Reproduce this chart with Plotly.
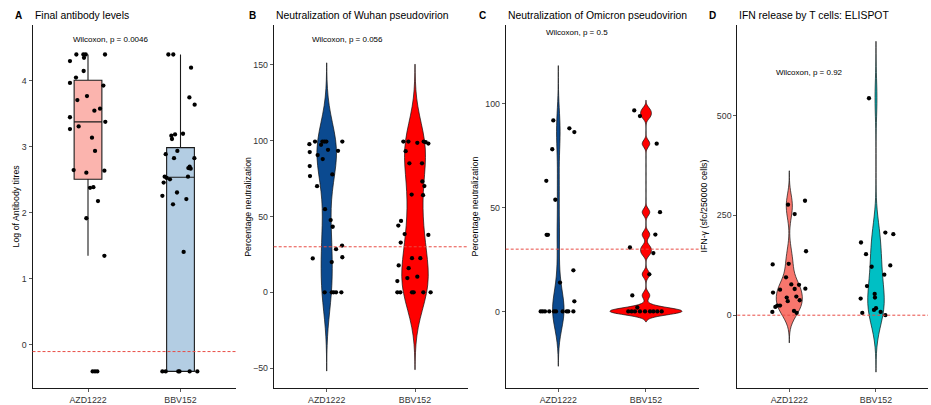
import numpy as np
import plotly.graph_objects as go

W, H = 931, 405
groups = ["AZD1222", "BBV152"]
FONT = "Liberation Sans, Arial, sans-serif"

# ---------------- Panel A: Final antibody levels (log titres) ----------------
a_azd = [4.30, 4.40, 4.40, 4.40, 4.35, 4.40, 4.15, 4.05, 3.97, 3.93, 3.77, 3.71, 3.58, 3.55,
         3.45, 3.38, 3.31, 3.27, 3.14, 2.94, 2.65, 2.64, 2.61, 2.38, 2.39, 2.18, 1.92, 1.35,
         -0.40, -0.40, -0.40]
a_azd_jit = [-0.195, -0.126, -0.05, -0.025, -0.043, 0.184, -0.047, -0.13, -0.195, 0.166, -0.011,
             -0.115, 0.130, 0.069, -0.195, 0.187, -0.101, -0.195, 0.043, 0.076, -0.155, 0.177,
             -0.018, 0.022, 0.058, 0.108, -0.018, 0.177, 0.050, 0.076, 0.101]
a_bbv = [4.40, 4.40, 4.20, 3.75, 3.64, 3.20, 3.19, 3.17, 3.12, 2.94, 2.89, 2.83, 2.83, 2.68,
         2.70, 2.67, 2.55, 2.51, 2.53, 2.55, 2.46, 2.31, 2.26, 2.21, 2.13, 1.41,
         -0.40, -0.40, -0.40, -0.40, -0.40, -0.40]
a_bbv_jit = [-0.131, -0.078, 0.114, 0.096, 0.153, 0.027, -0.059, -0.099, -0.092, -0.034, -0.160,
             -0.070, 0.150, 0.085, 0.099, 0.110, -0.171, -0.114, -0.150, 0.081, -0.182, -0.038,
             -0.196, 0.063, -0.081, 0.034, -0.196, -0.160, -0.024, -0.011, 0.099, 0.182]
a_q1 = [2.51, -0.40]
a_median = [3.38, 2.54]
a_q3 = [4.01, 2.99]
a_lowerfence = [1.35, -0.40]
a_upperfence = [4.40, 4.40]

# ---------------- Panel B: Wuhan pseudovirion neutralization (%) ----------------
b_azd = [99.3, 99.3, 99.3, 99.3, 99.3, 97.6, 97.2, 90.4, 93.9, 93.2, 92.4, 87.8, 83.2, 76.6,
         77.7, 69.9, 54.8, 47.6, 43.2, 30.8, 28.4, 22.3, 23.1, 19.9, 0, 0, 0, 0, 0]
b_azd_jit = [-0.132, -0.049, -0.026, -0.004, 0.177, -0.196, -0.064, -0.102, 0.015, 0.128, -0.192,
             -0.045, -0.192, -0.189, 0.064, -0.109, -0.019, 0.045, 0.068, 0.174, 0.106, -0.158,
             0.177, 0.057, -0.023, 0.057, 0.079, 0.106, 0.166]
b_bbv = [99.3, 99.3, 99.3, 98.5, 98.9, 98.0, 93, 85, 85, 73, 70, 64, 64.4, 47, 44, 38.4, 37.8,
         32.8, 22.5, 22.5, 17.7, 15.9, 10.3, 9.4, 7.4, 0, 0, 0, 0, 0, 0]
b_bbv_jit = [-0.132, -0.075, 0.098, 0.026, 0.121, 0.151, -0.106, -0.064, 0.079, 0.083, 0.106,
             0.091, -0.038, -0.158, -0.189, -0.117, 0.151, -0.162, -0.034, 0.060, -0.185, -0.072,
             0.026, -0.087, -0.200, -0.200, -0.166, -0.034, -0.015, 0.094, 0.177]

# ---------------- Panel C: Omicron pseudovirion neutralization (%) ----------------
c_azd = [92, 88.2, 86.4, 78.1, 62.9, 53.8, 36.9, 36.9, 19.8, 13.9, 4.9,
         0, 0, 0, 0, 0, 0, 0, 0, 0, 0]
c_azd_jit = [-0.057, 0.126, 0.183, -0.069, -0.137, -0.034, -0.133, -0.118, 0.172, 0.019, 0.183,
             -0.201, -0.178, -0.152, -0.103, -0.049, -0.026, 0.050, 0.096, 0.114, 0.172]
c_bbv = [96.8, 94.1, 80.8, 47.8, 37, 30.8, 28.1, 17.9, 7.7, 1.9,
         0, 0, 0, 0, 0, 0, 0, 0, 0]
c_bbv_jit = [-0.134, -0.069, 0.122, 0.160, 0.107, -0.183, 0.084, 0.038, -0.156, -0.099,
             -0.202, -0.164, -0.126, -0.069, -0.011, 0.046, 0.084, 0.129, 0.179]

# ---------------- Panel D: IFN-gamma ELISPOT ----------------
d_azd = [286.5, 276.6, 253, 160, 127, 128.7, 94.7, 77, 76, 66.4, 64, 65.6, 56.5, 46.5, 44,
         37.4, 35, 24, 24, 20.8, 10.8, 8.3, 5.8]
d_azd_jit = [0.181, -0.015, 0.062, 0.193, -0.192, -0.007, -0.038, 0.023, 0.112, 0.185, -0.107,
             0.062, -0.188, 0.081, -0.030, 0.120, -0.018, -0.138, -0.107, -0.161, 0.054, -0.196,
             0.085]
d_bbv = [543, 206.8, 202.7, 181.9, 152.8, 124.6, 121.3, 101.3, 73, 41.5, 53, 44, 17.4, 13.3,
         8.3, 5.8, 0]
d_bbv_jit = [-0.081, 0.108, 0.200, -0.173, -0.115, 0.165, -0.050, 0.096, -0.104, -0.177, -0.015,
             -0.012, 0.0, -0.023, 0.054, -0.158, 0.108]

thresholds = [-0.1, 30, 30, 0]
titles = ["Final antibody levels", "Neutralization of Wuhan pseudovirion",
          "Neutralization of Omicron pseudovirion", "IFN release by T cells: ELISPOT"]
letters = ["A", "B", "C", "D"]
ylabels = ["Log of Antibody titres", "Percentage neutralization",
           "Percentage neutralization", "IFN-\u03b3 (sfc/250000 cells)"]
pvals = ["Wilcoxon, p = 0.0046", "Wilcoxon, p = 0.056", "Wilcoxon, p = 0.5", "Wilcoxon, p = 0.92"]
yticks = [[0, 1, 2, 3, 4], [-50, 0, 50, 100, 150], [0, 50, 100], [0, 250, 500]]

# ---------------- layout geometry (pixels) ----------------
x_dom_px = [(32.5, 236), (273.7, 468), (505.7, 698.6), (737.3, 928)]
y_dom_px = (25, 390)
y_ranges = [(-0.653, 4.849), (-63.1, 176.2), (-36.9, 138.0), (-182.4, 726.6)]
letter_x = [13.3, 247.3, 477.3, 707.3]
title_x = [33.3, 274.3, 506, 736.5]
ylab_x = [16, 248.3, 475, 704]
pval_xy = [(110.5, 39.3), (347.7, 39.3), (576.7, 32.7), (809.3, 72.7)]

def px(x):
    return x / W

def py(y):
    return 1 - y / H

fig = go.Figure()
suffix = ["", "2", "3", "4"]

def ax(i):
    return "x" + suffix[i], "y" + suffix[i]

# Panel A boxes
box_colors = ["#FBB4AE", "#B3CDE3"]
xa, ya = ax(0)
for g in range(2):
    fig.add_trace(go.Box(
        x=[g], q1=[a_q1[g]], median=[a_median[g]], q3=[a_q3[g]],
        lowerfence=[a_lowerfence[g]], upperfence=[a_upperfence[g]],
        width=0.30, whiskerwidth=0, fillcolor=box_colors[g],
        line=dict(color="#1a1a1a", width=1.1), boxpoints=False,
        xaxis=xa, yaxis=ya, showlegend=False, hoverinfo="skip"))

# Violins
violin_sets = [
    (1, b_azd, 0, "#0B4A90", 17.3, 0.22),
    (1, b_bbv, 1, "#FF0000", 17.0, 0.30),
    (2, c_azd, 0, "#0B4A90", 8.8, 0.13),
    (2, c_bbv, 1, "#FF0000", 1.65, 0.82),
    (3, d_azd, 0, "#F8766D", 25.0, 0.30),
    (3, d_bbv, 1, "#00BFC4", 47.5, 0.19),
]
for p, vals, g, col, bw, wd in violin_sets:
    xa, ya = ax(p)
    v = np.array(vals, dtype=float)
    fig.add_trace(go.Violin(
        x=[g] * len(v), y=v, width=wd, bandwidth=bw, spanmode="manual",
        span=[v.min() - 3 * bw, v.max() + 3 * bw], points=False,
        box_visible=False, meanline_visible=False, fillcolor=col, opacity=1,
        line=dict(color="#111111", width=0.7), xaxis=xa, yaxis=ya,
        showlegend=False, hoverinfo="skip"))

# Dashed threshold lines
for p in range(4):
    xa, ya = ax(p)
    fig.add_shape(type="line", xref=xa + " domain", yref=ya, x0=0, x1=1,
                  y0=thresholds[p], y1=thresholds[p],
                  line=dict(color="#E84C45", width=1, dash="3px,2px"))

# Jittered points
point_sets = [
    (0, a_azd, a_azd_jit, 0), (0, a_bbv, a_bbv_jit, 1),
    (1, b_azd, b_azd_jit, 0), (1, b_bbv, b_bbv_jit, 1),
    (2, c_azd, c_azd_jit, 0), (2, c_bbv, c_bbv_jit, 1),
    (3, d_azd, d_azd_jit, 0), (3, d_bbv, d_bbv_jit, 1),
]
for p, vals, jit, g in point_sets:
    xa, ya = ax(p)
    fig.add_trace(go.Scatter(
        x=[g + j for j in jit], y=vals, mode="markers",
        marker=dict(size=4.3, color="black"), xaxis=xa, yaxis=ya,
        showlegend=False, hoverinfo="skip", cliponaxis=False))

layout = dict(
    width=W, height=H, margin=dict(l=0, r=0, t=0, b=0),
    paper_bgcolor="white", plot_bgcolor="white",
    font=dict(family=FONT, color="black"), showlegend=False, violinmode="overlay",
    boxmode="overlay",
)
axis_common = dict(showgrid=False, zeroline=False, showline=True, linecolor="#1a1a1a",
                   linewidth=1, ticks="outside", ticklen=3, tickwidth=0.8,
                   tickcolor="#333333", tickfont=dict(size=8.8, color="#333333", family=FONT))
for p in range(4):
    s = suffix[p]
    layout["xaxis" + s] = dict(domain=[px(x_dom_px[p][0]), px(x_dom_px[p][1])],
                               anchor="y" + s, range=[-0.6, 1.6], tickvals=[0, 1],
                               ticktext=groups, fixedrange=True, **axis_common)
    layout["yaxis" + s] = dict(domain=[py(y_dom_px[1]), py(y_dom_px[0])],
                               anchor="x" + s, range=list(y_ranges[p]),
                               tickvals=yticks[p], fixedrange=True, **axis_common)

annotations = []
for p in range(4):
    annotations.append(dict(text="<b>" + letters[p] + "</b>", x=px(letter_x[p]), y=py(15.5),
                            xref="paper", yref="paper", xanchor="left", yanchor="middle",
                            showarrow=False, font=dict(size=10, family=FONT, color="black")))
    annotations.append(dict(text=titles[p], x=px(title_x[p]), y=py(15.5),
                            xref="paper", yref="paper", xanchor="left", yanchor="middle",
                            showarrow=False, font=dict(size=10.4, family=FONT, color="black")))
    annotations.append(dict(text=ylabels[p], x=px(ylab_x[p]), y=py(207.5),
                            xref="paper", yref="paper", xanchor="center", yanchor="middle",
                            textangle=-90, showarrow=False,
                            font=dict(size=8.8, family=FONT, color="black")))
    annotations.append(dict(text=pvals[p], x=px(pval_xy[p][0]), y=py(pval_xy[p][1]),
                            xref="paper", yref="paper", xanchor="center", yanchor="middle",
                            showarrow=False, font=dict(size=8, family=FONT, color="black")))
layout["annotations"] = annotations
fig.update_layout(**layout)

fig.write_html(
    "out.html",
    config={"displayModeBar": False, "staticPlot": True},
    post_script="document.documentElement.style.margin='0';"
                "document.documentElement.style.padding='0';"
                "document.body.style.margin='0';document.body.style.padding='0';"
                "document.body.style.overflow='hidden';",
)
